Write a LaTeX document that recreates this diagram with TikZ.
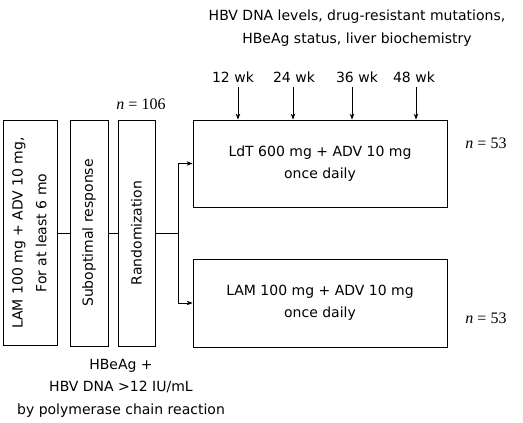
\documentclass[tikz,border=0pt]{standalone}
\usepackage{fontspec}
\setmainfont{DejaVu Sans}
\newfontfamily\nfont{Liberation Serif}
\usepackage{graphicx}
\usetikzlibrary{arrows.meta, positioning}

\tikzset{
  box/.style = {draw, line width=0.8pt, inner sep=0pt},
  txt/.style = {align=center, font=\fontsize{14}{22.5}\selectfont},
  nlab/.style = {font=\nfont\fontsize{16}{18}\selectfont},
  arr/.style = {-{Stealth[length=6pt, width=4.5pt]}, line width=0.8pt}
}

\begin{document}
\begin{tikzpicture} [x=1pt, y=-1pt, txt]
\useasboundingbox (0,0) rectangle (523,423);

\node (lam)  [box, minimum width=54pt, minimum height=225pt] at (30,233)
  {\rotatebox{90}{\begin{tabular}{@{}c@{}}LAM 100 mg + ADV 10 mg,\\[1pt] For at least 6 mo\end{tabular}}};
\node (sub)  [box, minimum width=38pt, minimum height=226pt] at (89,233)
  {\rotatebox{90}{Suboptimal response}};
\node (rand) [box, minimum width=37pt, minimum height=226pt] at (136.5,233)
  {\rotatebox{90}{Randomization}};
\node (ldt)  [box, minimum width=254pt, minimum height=87pt] at (320,163.5)
  {LdT 600 mg + ADV 10 mg\\once daily};
\node (ladv) [box, minimum width=254pt, minimum height=88pt] at (320,303)
  {LAM 100 mg + ADV 10 mg\\once daily};

\node (n106) [nlab] at (141,104) {\textit{n} = 106};
\node (n53a) [nlab] at (486,143) {\textit{n} = 53};
\node (n53b) [nlab] at (486,318) {\textit{n} = 53};

\node (info) at (357,28) {HBV DNA levels, drug-resistant mutations,\\HBeAg status, liver biochemistry};
\node (crit) at (121,388) {HBeAg +\\HBV DNA >12 IU/mL\\by polymerase chain reaction};

% visit labels and their arrow tops
\node (w12) at (233,77) {12 wk};
\node (w24) at (294,77) {24 wk};
\node (w36) at (357,77) {36 wk};
\node (w48) at (414,77) {48 wk};
\coordinate (a12) at (238,87);
\coordinate (a24) at (293,87);
\coordinate (a36) at (352,87);
\coordinate (a48) at (416,87);

\coordinate (fork) at (178,233);

\draw [line width=0.8pt]
  (lam) -- (sub)
  (sub) -- (rand)
  (rand) -- (fork);
\draw [arr] (fork) |- (ldt.west);
\draw [arr] (fork) |- (ladv.west);

\foreach \a in {a12, a24, a36, a48}
  \draw [arr] (\a) -- (\a |- ldt.north);
\end{tikzpicture}
\end{document}
